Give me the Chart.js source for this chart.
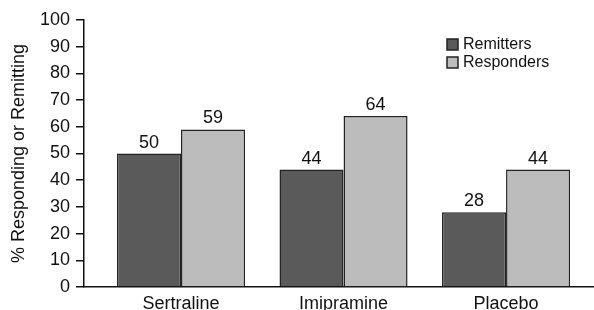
<!DOCTYPE html>
<html>
<head>
<meta charset="utf-8">
<script src="https://cdn.jsdelivr.net/npm/chart.js@4/dist/chart.umd.min.js"></script>
<style>
  html, body { margin: 0; padding: 0; background: #fff; }
  #wrap { width: 594px; height: 310px; }
</style>
</head>
<body>
<div id="wrap"><canvas id="respChart" width="594" height="310"></canvas></div>
<script>
const categories = ['Sertraline', 'Imipramine', 'Placebo'];
const remitters = [50, 44, 28];
const responders = [59, 64, 44];
const yTicks = [0, 10, 20, 30, 40, 50, 60, 70, 80, 90, 100];

const FONT = 'Arial, "Liberation Sans", Helvetica, sans-serif';

// value labels above each bar
const barLabels = {
    id: 'barLabels',
    afterDatasetsDraw(chart) {
        const ctx = chart.ctx;
        ctx.save();
        ctx.font = '18px ' + FONT;
        ctx.fillStyle = '#111';
        ctx.textAlign = 'center';
        ctx.textBaseline = 'alphabetic';
        chart.data.datasets.forEach((ds, i) => {
            chart.getDatasetMeta(i).data.forEach((bar, j) => {
                ctx.fillText(ds.data[j].y, bar.x, bar.y - 6);
            });
        });
        ctx.restore();
    }
};

// small legend in the upper right of the plot
const boxLegend = {
    id: 'boxLegend',
    afterDraw(chart) {
        const ctx = chart.ctx;
        const a = chart.chartArea;
        const x = a.left + 363;
        let y = a.top + 19;
        ctx.save();
        ctx.font = '16px ' + FONT;
        ctx.textBaseline = 'middle';
        chart.data.datasets.forEach((ds) => {
            ctx.fillStyle = ds.backgroundColor;
            ctx.fillRect(x, y, 11, 11);
            ctx.strokeStyle = '#222';
            ctx.lineWidth = 1.5;
            ctx.strokeRect(x, y, 11, 11);
            ctx.fillStyle = '#111';
            ctx.fillText(ds.label, x + 16, y + 6);
            y += 18;
        });
        ctx.restore();
    }
};

new Chart(document.getElementById('respChart'), {
    type: 'bar',
    data: {
        datasets: [
            {
                label: 'Remitters',
                data: remitters.map((v, i) => ({ x: i, y: v })),
                backgroundColor: '#5a5a5a',
                borderColor: '#222',
                borderWidth: 1.5,
            },
            {
                label: 'Responders',
                data: responders.map((v, i) => ({ x: i, y: v })),
                backgroundColor: '#bcbcbc',
                borderColor: '#222',
                borderWidth: 1.5,
            },
        ],
    },
    options: {
        responsive: false,
        animation: false,
        categoryPercentage: 0.788,
        barPercentage: 1,
        layout: { padding: { top: 20, right: 1, left: 0, bottom: 0 } },
        plugins: {
            legend: { display: false },
            tooltip: { enabled: false },
        },
        scales: {
            x: {
                type: 'linear',
                offset: false,
                min: -0.597,
                max: 2.535,
                grid: { display: false, drawTicks: false },
                border: { color: '#111', width: 1.5 },
                afterBuildTicks: (scale) => {
                    scale.ticks = categories.map((c, i) => ({ value: i }));
                },
                afterFit: (scale) => { scale.height = 23; },
                ticks: {
                    autoSkip: false,
                    maxRotation: 0,
                    padding: 6,
                    color: '#111',
                    font: { family: FONT, size: 18 },
                    callback: (v) => categories[v],
                },
            },
            y: {
                min: 0,
                max: 100,
                afterBuildTicks: (scale) => {
                    scale.ticks = yTicks.map((v) => ({ value: v }));
                },
                afterFit: (scale) => { scale.width = 84; },
                grid: {
                    drawOnChartArea: false,
                    drawTicks: true,
                    tickLength: 8,
                    color: '#111',
                    lineWidth: 1.5,
                },
                border: { color: '#111', width: 1.5 },
                ticks: {
                    padding: 6,
                    color: '#111',
                    font: { family: FONT, size: 18 },
                },
                title: {
                    display: true,
                    text: '% Responding or Remitting',
                    color: '#111',
                    padding: { top: 8, bottom: 0 },
                    font: { family: FONT, size: 18 },
                },
            },
        },
    },
    plugins: [barLabels, boxLegend],
});
</script>
</body>
</html>
